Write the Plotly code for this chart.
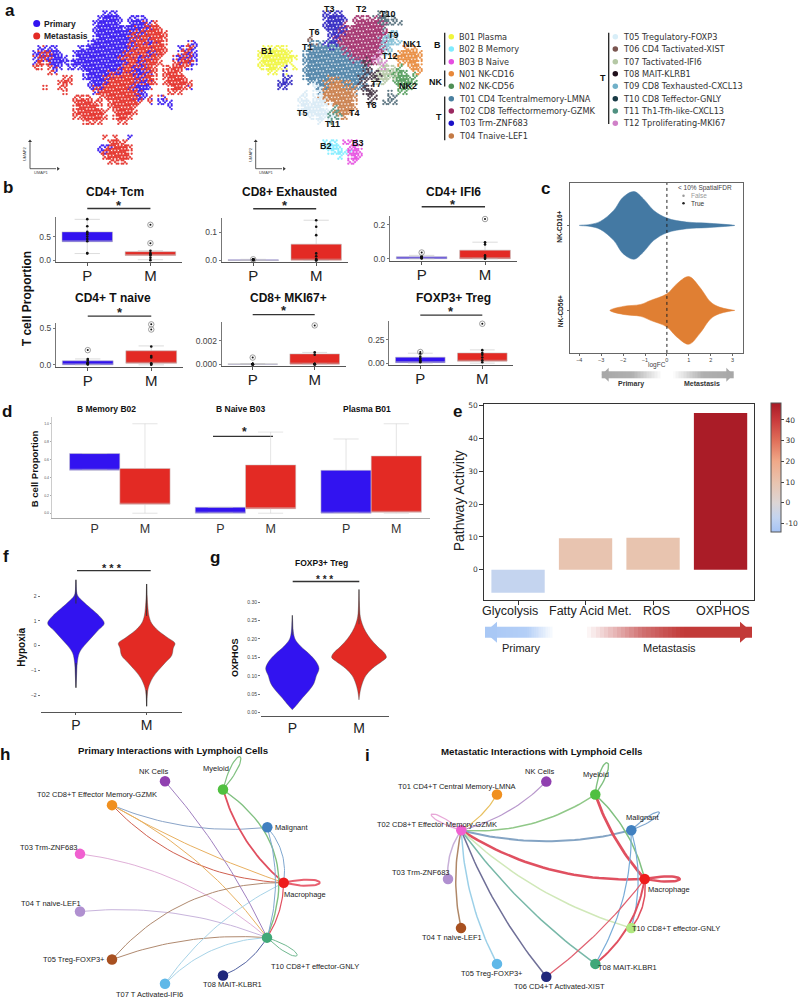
import plotly.graph_objects as go

W, H = 800, 1001
BLUE = "#3213f0"
RED = "#e32a24"
SANS = "Liberation Sans"

# ---------- panel a: cell maps (one row per 5 px of UMAP height)
umap_rows_y = list(range(10, 170, 5))
umap_group_rows = [
"..............bbb................",
".............bbbbb.bbbb..........",
"............bbbbbb.bbbbrr........",
"............bbbbbbbbbbbrrr.......",
"............bbbbbbbbrbrrrrr......",
"............bbbbbbbbrrrrrrr......",
"...........bbbbbbbbbrrrbrrr....bb",
".bbbb....bbbbbbbbbbbrrrrrrr..bbrb",
"bbrbbb..bbbbbbbbbbbrrrrbrrr..brbb",
"brrbbbb.bbbbbbbbbbrrrbrrrr..rbrbb",
"rrrbbbbbbbbbbbbbbbbrrbrrrr..rrrrb",
"rr.rbb.bbbbbbbbbbbrrbbrrr.rrrrrb.",
"...rr.....bbbbbbbbrrbbbrr.rrrr...",
"......rr..bbbbbrrrrrrbrrr.rrrrr..",
".....rrr...bbbbrrrrrrbbrr.rrrrrr.",
"..r..rr....bbbrrrrrrbbbb...rrrrb.",
"......r.....rrrrrrrrrbb....rrr...",
"........rrrr.rrrrrrrrbbb.br......",
"........rrrrrr.rrrrrrr.r.bbb.....",
"........rrrrrr.rrrrrr......b.....",
"........rrrrrrr.rrrrr............",
"........rrrrrrr.rrrr.............",
"..........rrrr...rr..............",
".................................",
".................................",
"..............r.r..b.............",
"...............rrrr..............",
".............bbrrrrr.............",
".............brrrrrr.............",
"..............rrrrrr.............",
"...............rrrr..............",
".................................",
]
umap_cluster_rows = [
".............dddd.......uu.......",
".............ddddd.pppppuuuu.....",
".............ddddd.ppppppuuuu....",
".............ddddppppppppp.......",
"..............dddppppppppptt.....",
"..........k...ddpppppppppttt.....",
"..........ksssddppppppppptttt....",
".YYYYY....ssssssspppppppptt..OOO.",
"YYYYYYY..sssssssssppppppptt.OOOOO",
"YYYYYYYY.sssssssssspppppw..OOOOOO",
"YYYYYYY..ssssssssssssnppww..OOOOO",
"YYYYYY.Y.sssssssssssssn.aaaaG.OOO",
"..YY.d...sssssssssssssnnaaaGGG.OO",
".....dd..ssssssssssssnnnaaaGGGGG.",
"....ddd...ssssooossssn.aaa.GGGGG.",
"....dd.....lssooooossnn.....GGG..",
".........l.llooooooo.nnn..u.GG...",
"........ll.llooooooo..nn..uu.....",
"........lllllloooooo..n..uuu.....",
"........llllll.ooooo.............",
"........lllllllvooo..............",
"..........lllllvoo...............",
"............l.v..................",
".................................",
".................................",
".................................",
".............CCC.MMM.............",
".............CCCC.MMM............",
"..............CCCCMMM............",
"................C.MMM............",
"..................MM.............",
".................................",
]
group_colors = {"b": BLUE, "r": RED}
cluster_colors = {"Y": "#f0f53c", "C": "#7fecff", "M": "#e54de0", "O": "#e8883a", "G": "#4f9a58",
                  "s": "#4a80a5", "p": "#a02a68", "d": "#2a20c0", "o": "#c87a45", "l": "#d8eaf5",
                  "k": "#7a5550", "a": "#b5c8a5", "n": "#403040", "t": "#80bcd4", "u": "#506a78",
                  "v": "#4f9080", "w": "#d080c8"}
legend_left = ["B01 Plasma", "B02 B Memory", "B03 B Naive", "N01 NK-CD16", "N02 NK-CD56",
               "T01 CD4 Tcentralmemory-LMNA", "T02 CD8 Teffectormemory-GZMK", "T03 Trm-ZNF683", "T04 Tnaive-LEF1"]
legend_left_colors = ["#f0f53c", "#7fecff", "#e54de0", "#e8883a", "#4f8f55", "#4a80a0", "#9a2860", "#1a10c8", "#c47a45"]
legend_right = ["T05 Tregulatory-FOXP3", "T06 CD4 Tactivated-XIST", "T07 Tactivated-IFI6", "T08 MAIT-KLRB1",
                "T09 CD8 Texhausted-CXCL13", "T10 CD8 Teffector-GNLY", "T11 Th1-Tfh-like-CXCL13", "T12 Tproliferating-MKI67"]
legend_right_colors = ["#d8eef8", "#7a5550", "#b5c8a5", "#20101c", "#70b0c8", "#183a45", "#4f9080", "#d080c8"]
cluster_labels = [("T3", 329, 6), ("T2", 361, 6), ("T10", 388, 11), ("T9", 393, 32), ("NK1", 412, 41), ("T6", 314, 29),
                  ("T1", 307, 44), ("B1", 267, 48), ("T12", 390, 53), ("T7", 376, 81), ("NK2", 408, 84), ("T8", 371, 103),
                  ("T4", 354, 111), ("T5", 302, 111), ("T11", 332, 122), ("B2", 326, 144), ("B3", 358, 141)]

# ---------- panel b: box statistics (q1, q3, low whisker, high whisker) for P then M
b_titles = ["CD4+ Tcm", "CD8+ Exhausted", "CD4+ IFI6", "CD4+ T naive", "CD8+ MKI67+", "FOXP3+ Treg"]
b_q1 = [[.39, .10], [0, .001], [0, 0], [0, .02], [0, 0], [.005, .02]]
b_q3 = [[.60, .18], [.0025, .058], [.012, .051], [.054, .19], [.00002, .00087], [.064, .11]]
b_lo = [[.14, .01], [0, 0], [0, 0], [0, 0], [0, 0], [0, 0]]
b_hi = [[.866, .20], [.004, .143], [.02, .098], [.08, .257], [.00003, .001], [.107, .143]]
b_pts_p = [[.87, .72, .6, .58, .55, .5, .45, .4, .15, .14], [.004, .003, .002, .003, .001, .002, .004, .003],
           [.015, .01, .005, .012, .002, .008], [.08, .06, .03, .02, .01, .005, .02], [0, 0, 0, 0, 0, 0, 0, 0, 0],
           [.1, .07, .05, .03, .02, .01]]
b_pts_m = [[.2, .15, .13, .12, .1, .05, 0], [.143, .12, .09, .025, .015, .005, .003, 0, .001],
           [.098, .085, .02, .01, .005, 0], [.25, .12, .1, .02, .01, 0], [.001, .0008, 0, 0, 0, 0, 0, 0],
           [.14, .11, .09, .06, .03, .01]]
b_out_p = [[], [.004], [.037], [.2], [.00056], [.12]]
b_out_m = [[.75, .36], [], [.235], [.55, .48], [.0033], [.425]]
b_ticks = [[0, .5], [0, .1], [0, .2], [0, .5], [0, .002], [0, .25]]
b_ticktext = [["0.0", "0.5"], ["0.0", "0.1"], ["0.0", "0.2"], ["0.0", "0.5"], ["0.000", "0.002"], ["0.00", "0.25"]]
# panel frames: left, right, top, bottom, y of tick 0, px per unit
b_frames = [(55.7, 182, 215, 260.7, 258.7, 47.4), (221.7, 347.7, 216, 260.7, 259, 283),
            (390, 516.7, 214.3, 259.3, 257.3, 170), (56, 183, 321.7, 365.7, 364, 74),
            (221.7, 345.7, 321, 365, 363.3, 11800), (389.3, 513.3, 320, 364, 362.3, 93.2)]

# ---------- panel c
c_logfc_16 = [-4.0, -3.5, -3.04, -2.43, -2.0, -1.5, -1.07, -0.6, 0.0, 0.9, 1.8, 3.0, 3.1]
c_width_16 = [0.0, 0.012, 0.047, 0.176, 0.332, 0.398, 0.312, 0.176, 0.086, 0.039, 0.027, 0.004, 0.0]
c_logfc_56 = [-2.6, -2.0, -1.2, -0.75, 0.0, 0.45, 1.0, 1.5, 2.0, 2.4, 3.1]
c_width_56 = [0.0, 0.047, 0.07, 0.117, 0.195, 0.312, 0.398, 0.273, 0.098, 0.039, 0.0]

# ---------- panel d
d_x = [0, 1, 2.5, 3.5, 5, 6]
d_q1 = [.48, .10, 0, .05, 0, .01]
d_q3 = [.667, .50, .067, .54, .48, .64]
d_lo = [.48, 0, 0, 0, 0, 0]
d_hi = [.667, 1.0, .067, .907, .83, 1.0]
d_med = [.48, .10, 0, .05, 0, .01]
d_titles = [("B Memory B02", 106.7), ("B Naive B03", 240.7), ("Plasma B01", 367.3)]

# ---------- panel e
e_paths = ["Glycolysis", "Fatty Acid Met.", "ROS", "OXPHOS"]
e_values = [-7.0, 9.6, 9.8, 47.7]
e_label_x = [510.3, 590, 656, 723]
e_scale = [[0, "#a5c3f5"], [.11, "#c3d4f0"], [.225, "#dcd5d5"], [.38, "#e8c4b0"], [.55, "#f0a888"],
           [.707, "#e0705a"], [.868, "#c93a3c"], [1, "#a81a26"]]

# ---------- panels f, g: violin half widths
f_p_y = [2.66, 2.2, 2.0, 1.8, 1.5, 1.2, .9, .6, .3, 0, -.3, -.7, -1.2, -1.7]
f_p_w = [0, .009, .028, .094, .212, .33, .40, .307, .212, .118, .047, .019, .009, 0]
f_m_y = [2.49, 2.0, 1.5, 1.2, .9, .6, .3, .1, -.1, -.4, -.7, -1.0, -1.3, -1.7, -2.0, -2.45]
f_m_w = [0, .007, .019, .033, .071, .165, .307, .40, .377, .354, .259, .165, .085, .024, .009, 0]
g_p_y = [.264, .25, .22, .20, .18, .16, .14, .12, .10, .08, .06, .04, .02, .008]
g_p_w = [0, .005, .015, .04, .125, .25, .35, .40, .36, .325, .25, .15, .06, 0]
g_m_y = [.336, .30, .26, .24, .22, .20, .18, .16, .15, .14, .12, .10, .08, .06, .035]
g_m_w = [0, .005, .02, .05, .10, .175, .275, .39, .41, .35, .20, .10, .05, .02, 0]

# ---------- panels h, i: networks. Node centres, px on the page
h_nodes = {"NK Cells": (165, 783, "#9040b0"), "Myeloid": (223, 791.3, "#50c040"), "Malignant": (267.3, 829.3, "#4080c0"),
           "Macrophage": (283.7, 885, "#ee1c1c"), "T10": (267, 940.3, "#40a878"), "T08": (223, 978.3, "#20287c"),
           "T07": (165, 986.7, "#60b8e8"), "T05": (112, 962.3, "#a85020"), "T04": (80, 914, "#b090d0"),
           "T03": (80, 856, "#f060d0"), "T02": (112, 807, "#f09020")}
h_edges = [("T02", "Malignant", -.13, "#8aa4c8", 1), ("T02", "Macrophage", -.05, "#e8b060", 1), ("T02", "Macrophage", -.2, "#d06050", 1),
           ("T02", "T10", .12, "#e8b060", 1), ("T03", "T10", .15, "#e0b0d8", 1), ("T04", "T10", .12, "#c8b4dc", 1),
           ("T05", "Macrophage", .23, "#b08a70", 1), ("T05", "T10", .11, "#b08a70", 1), ("T07", "Macrophage", .13, "#a8d4e8", 1),
           ("T07", "T10", .2, "#a8d4e8", 1), ("T08", "T10", -.17, "#5060a0", 1), ("NK Cells", "T10", .07, "#a080c0", 1),
           ("Myeloid", "Macrophage", -.15, "#e05060", 1.8), ("Myeloid", "T10", .4, "#80c080", 1.4), ("Malignant", "Macrophage", .23, "#80a8d0", 1),
           ("Malignant", "T10", .15, "#80a8d0", 1), ("Macrophage", "T10", .14, "#e05060", 1.2)]
h_loops = [("Myeloid", 17, -33, 9, "#80c080", 1.2), ("Macrophage", 36, 0, 8, "#e86070", 2), ("T10", 30, 18, 8, "#70b890", 1)]
h_labels = [("NK Cells", 153.3, 772.7), ("Myeloid", 215.7, 770), ("T02 CD8+T Effector Memory-GZMK", 97.3, 796.3), ("Malignant", 291.3, 829),
            ("T03 Trm-ZNF683", 49, 849.3), ("T04 T naive-LEF1", 51, 905.7), ("Macrophage", 305.3, 896.7), ("T05 Treg-FOXP3+", 74, 962),
            ("T10 CD8+T effector-GNLY", 315, 969.7), ("T08 MAIT-KLBR1", 232.7, 987.3), ("T07 T Activated-IFI6", 149, 997)]
i_nodes = {"NK Cells": (546.3, 783.3, "#9040b0"), "T01": (497, 796.3, "#f09020"), "T02": (461.3, 832.3, "#f060d0"), "T03": (448, 881.3, "#b090d0"),
           "T04": (461, 930.7, "#a85020"), "T05": (497, 966.7, "#60b8e8"), "T06": (546.3, 979.7, "#20287c"), "T08": (595.3, 966.7, "#40a878"),
           "T10": (631.3, 930.7, "#b0e880"), "Macrophage": (644.7, 881.3, "#ee1c1c"), "Malignant": (631.3, 832.3, "#4080c0"), "Myeloid": (595.3, 796.3, "#50c040")}
i_edges = [("T01", "T02", .13, "#e8c060", 1.2), ("NK Cells", "T02", .14, "#b898cc", 1.2), ("Myeloid", "T02", .17, "#90c888", 1.5),
           ("Malignant", "T02", .13, "#84a4c4", 2), ("Macrophage", "T02", .16, "#e05060", 2.5), ("T10", "T02", .12, "#d0e8b8", 1.5),
           ("T08", "T02", .08, "#78b8a8", 1.5), ("T06", "T02", .08, "#707098", 1.5), ("T05", "T02", .11, "#9cd0e8", 1.5),
           ("T04", "T02", .11, "#b08868", 1.5), ("T03", "T02", .18, "#c8b0d8", 1.5), ("Myeloid", "Macrophage", -.1, "#e05060", 2.8),
           ("Myeloid", "Macrophage", .15, "#80c080", 1.5), ("Malignant", "T08", .14, "#78acd8", 1.2), ("Malignant", "T10", .14, "#78acd8", 1.2),
           ("T06", "Macrophage", -.07, "#e06070", 1.2), ("T08", "Macrophage", -.19, "#e05060", 2), ("T10", "Macrophage", -.2, "#e05060", 1.5)]
i_loops = [("Myeloid", 12, -32, 9, "#80c080", 1.4), ("Malignant", 28, -18, 7, "#80a8d0", 1.2), ("Macrophage", 35, 0, 7, "#e05060", 2.5),
           ("T02", -30, -16, 7, "#e8a8d8", 1.2)]
i_labels = [("T01 CD4+T Central Memory-LMNA", 456.7, 788.3), ("NK Cells", 539.7, 773.3), ("Myeloid", 596, 775.7), ("Malignant", 642.7, 819.7),
            ("T02 CD8+T Effector Memory-GZMK", 436.7, 826.7), ("T03 Trm-ZNF683", 420.7, 875), ("T04 T naive-LEF1", 451.7, 939.7),
            ("T05 Treg-FOXP3+", 492.3, 976), ("T06 CD4+T Activated-XIST", 559.3, 989), ("T08 MAIT-KLBR1", 627.3, 970.3),
            ("T10 CD8+T effector-GNLY", 676, 931.3), ("Macrophage", 668.7, 892)]

traces, ann, layout_axes = [], [], {}
axis_count = [1]


def txt(s, x, y, size=8, bold=False, color="#222", angle=0, anchor="center", family=SANS):
    ann.append(dict(text=f"<b>{s}</b>" if bold else s, x=x / W, y=1 - y / H, xref="paper", yref="paper", showarrow=False,
                    xanchor=anchor, yanchor="middle", textangle=angle, font=dict(size=size, color=color, family=family)))


def add_axes(l, r, t, b, xr, yr, xopt=None, yopt=None):
    axis_count[0] += 1
    n = axis_count[0]
    xa = dict(domain=[l / W, r / W], range=xr, anchor=f"y{n}", showgrid=False, zeroline=False, layer="above traces")
    ya = dict(domain=[1 - b / H, 1 - t / H], range=yr, anchor=f"x{n}", showgrid=False, zeroline=False, layer="above traces")
    xa.update(xopt or {})
    ya.update(yopt or {})
    layout_axes[f"xaxis{n}"] = xa
    layout_axes[f"yaxis{n}"] = ya
    return f"x{n}", f"y{n}"


# full page overlay in page pixels
layout_axes["xaxis"] = dict(domain=[0, 1], range=[0, W], visible=False, anchor="y")
layout_axes["yaxis"] = dict(domain=[0, 1], range=[H, 0], visible=False, anchor="x")


def line(xs, ys, color="#333", width=1, dash=None, opacity=1):
    traces.append(go.Scatter(x=xs, y=ys, mode="lines", line=dict(color=color, width=width, dash=dash), opacity=opacity,
                             hoverinfo="skip", showlegend=False))


def bracket(x0, x1, y, star_x, star_y, stars="*", size=12):
    line([x0, x1], [y, y], "#333", 1.4)
    txt(stars, star_x, star_y, size, True, "#222")


def arrow_gradient(x0, x1, yc, sh, hh, hl, colors, head_left):
    n = 40
    xs = [x0 + (x1 - x0) * i / n for i in range(n + 1)]
    traces.append(go.Heatmap(x=xs, y=[yc - sh / 2, yc + sh / 2], z=[[i / (n - 1) for i in range(n)]], colorscale=colors, showscale=False,
                             zmin=0, zmax=1, hoverinfo="skip"))
    if head_left:
        hx = [x0, x0 + hl, x0 + hl, x0]
    else:
        hx = [x1, x1 - hl, x1 - hl, x1]
    hy = [yc, yc - hh / 2, yc + hh / 2, yc]
    c = colors[0][1] if head_left else colors[-1][1]
    traces.append(go.Scatter(x=hx, y=hy, fill="toself", fillcolor=c, mode="lines", line=dict(width=0, color=c), hoverinfo="skip", showlegend=False))


# ---- panel letters
for s, x, y in [("a", 10, 8), ("b", 8, 186), ("c", 545, 187), ("d", 7, 411), ("e", 457, 411), ("f", 6, 557), ("g", 215, 558), ("h", 5, 756), ("i", 367, 757)]:
    txt(s, x, y, 17, True, "#111")


# ---- panel a
def draw_map(rows, x0, colors):
    pts = {k: ([], []) for k in colors}
    for r, row in enumerate(rows):
        for c, ch in enumerate(row):
            if ch == ".":
                continue
            near = []
            for rr, cc in [(r - 1, c), (r + 1, c), (r, c - 1), (r, c + 1)]:
                near.append(rows[rr][cc] if 0 <= rr < len(rows) and 0 <= cc < len(row) else ".")
            other = next((n for n in near if n not in (".", ch)), None)
            edge = "." in near
            for i in range(3):
                for j in range(3):
                    if edge and (i + j) % 2 == 1:
                        continue
                    if (i + 2 * j + r + c) % 5 == 0:
                        continue
                    key = other if other and (i + j + r + c) % 3 == 0 else ch
                    pts[key][0].append(x0 + 5 * c + (i - 1) * 5 / 3)
                    pts[key][1].append(umap_rows_y[r] + (j - 1) * 5 / 3)
    for k, col in colors.items():
        traces.append(go.Scatter(x=pts[k][0], y=pts[k][1], mode="markers", marker=dict(color=col, size=2.3, opacity=.9, line=dict(width=0)),
                                 hoverinfo="skip", showlegend=False))


draw_map(umap_group_rows, 35, group_colors)
draw_map(umap_cluster_rows, 260, cluster_colors)
traces.append(go.Scatter(x=[36.7, 36.7], y=[20.7, 33.3], mode="markers", marker=dict(color=[BLUE, RED], size=7), hoverinfo="skip", showlegend=False))
txt("Primary", 41.7, 20.7, 8.5, True, "#222", anchor="left")
txt("Metastasis", 41.7, 33.3, 8.5, True, "#222", anchor="left")
for s, x, y in cluster_labels:
    txt(s, x, y, 9, True, "#111")
for x0, x1 in [(30, 58), (255.7, 284)]:
    line([x0, x0], [166.7, 140], "#333", .8)
    line([x0, x1 - 2], [166.7, 166.7], "#333", .8)
    traces.append(go.Scatter(x=[x0, x1], y=[139, 166.7], mode="markers",
                             marker=dict(symbol=["triangle-up", "triangle-right"], size=3.5, color="#333"), hoverinfo="skip", showlegend=False))
    txt("UMAP2", x0 - 6, 152, 4, False, "#444", -90)
    txt("UMAP1", x0 + 11, 170.5, 4, False, "#444")
left_y = [34, 46.3, 59, 71.3, 83.7, 96.3, 108.7, 121, 133.7]
traces.append(go.Scatter(x=[451.3] * 9, y=left_y, mode="markers", marker=dict(color=legend_left_colors, size=5.5), hoverinfo="skip", showlegend=False))
traces.append(go.Scatter(x=[615.3] * 8, y=left_y[:8], mode="markers", marker=dict(color=legend_right_colors, size=5.5), hoverinfo="skip", showlegend=False))
for s, y in zip(legend_left, left_y):
    txt(s, 456.7, y, 8.2, False, "#333", anchor="left", family="DejaVu Sans")
for s, y in zip(legend_right, left_y):
    txt(s, 621, y, 8.2, False, "#333", anchor="left", family="DejaVu Sans")
for x, y0, y1 in [(444.7, 30, 62), (444.7, 68, 84), (444.7, 94, 138), (608.7, 30, 121.7)]:
    line([x, x], [y0, y1], "#222", 1.3)
for s, x, y in [("B", 437.7, 42.7), ("NK", 435.7, 79), ("T", 439, 115), ("T", 603.3, 75)]:
    txt(s, x, y, 9, True, "#111")

# ---- panel b
for k, (l, r, t, b, y0, scale) in enumerate(b_frames):
    xa, ya = add_axes(l, r, t, b, [-.5, 1.5], [(y0 - b) / scale, (y0 - t) / scale],
                      dict(tickvals=[0, 1], ticktext=["P", "M"], showline=True, linecolor="#555", linewidth=1, ticks="outside", ticklen=3,
                           ticklabelstandoff=-3, tickcolor="#555", tickfont=dict(size=15, color="#222", family=SANS)),
                      dict(tickvals=b_ticks[k], ticktext=b_ticktext[k], showline=True, linecolor="#777", linewidth=1, ticks="outside", ticklen=2,
                           tickcolor="#777", tickfont=dict(size=8.5, color="#444", family=SANS)))
    for j, col in enumerate([BLUE, RED]):
        traces.append(go.Box(x=[j], q1=[b_q1[k][j]], median=[b_q1[k][j]], q3=[b_q3[k][j]], lowerfence=[b_lo[k][j]], upperfence=[b_hi[k][j]],
                             width=.8, fillcolor=col, line=dict(color="rgba(190,190,190,.9)", width=.6), whiskerwidth=.5, xaxis=xa, yaxis=ya,
                             hoverinfo="skip", showlegend=False, boxpoints=False))
    for j, pts in enumerate([b_pts_p[k], b_pts_m[k]]):
        traces.append(go.Scatter(x=[j] * len(pts), y=pts, mode="markers", marker=dict(color="#111", size=2.6), xaxis=xa, yaxis=ya, hoverinfo="skip", showlegend=False))
    for j, pts in enumerate([b_out_p[k], b_out_m[k]]):
        traces.append(go.Scatter(x=[j] * len(pts), y=pts, mode="markers", marker=dict(color="rgba(255,255,255,0)", size=5.5, line=dict(color="#888", width=.8)),
                                 xaxis=xa, yaxis=ya, hoverinfo="skip", showlegend=False, cliponaxis=False))
        traces.append(go.Scatter(x=[j] * len(pts), y=pts, mode="markers", marker=dict(color="#111", size=2), xaxis=xa, yaxis=ya, hoverinfo="skip", showlegend=False, cliponaxis=False))
    cx0, cx1 = l + (r - l) * .25, l + (r - l) * .75
    tops = [(190, 206.7, 204), (190, 207, 204), (190, 205, 203), (297, 315, 311), (297, 313.5, 309), (297, 314, 310)]
    ty, by, sy = tops[k]
    txt(b_titles[k], (cx0 + cx1) / 2 + [-4, 5, 0, -7, 5, 2][k], ty - 0 if k < 3 else 297, 12, True, "#111")
    bracket(cx0, cx1, by, (cx0 + cx1) / 2, sy, "*", 13)
txt("T cell Proportion", 27, 298, 12, True, "#111", -90)

# ---- panel c
xa, ya = add_axes(570, 743, 181, 352, [(570 - 666.9) / 21.9, (743 - 666.9) / 21.9], [-.5, 1.5],
                  dict(tickvals=list(range(-4, 4)), ticktext=["\u22124", "\u22123", "\u22122", "\u22121", "0", "1", "2", "3"], showline=True, mirror=True,
                       linecolor="#666", linewidth=1, ticks="outside", ticklen=2, tickcolor="#666", tickfont=dict(size=5.5, color="#444", family=SANS)),
                  dict(tickvals=[0, 1], ticktext=["", ""], showline=True, mirror=True, linecolor="#666", linewidth=1, ticks="outside", ticklen=2, tickcolor="#666"))
for xs, ws, c, col in [(c_logfc_16, c_width_16, 1, "#4479a3"), (c_logfc_56, c_width_56, 0, "#e07f33")]:
    traces.append(go.Scatter(x=xs + xs[::-1], y=[c + w for w in ws] + [c - w for w in ws[::-1]], fill="toself", fillcolor=col, mode="lines",
                             line=dict(color=col, width=.5, shape="spline"), xaxis=xa, yaxis=ya, hoverinfo="skip", showlegend=False))
traces.append(go.Scatter(x=[0, 0], y=[-.5, 1.5], mode="lines", line=dict(color="#222", width=1, dash="dot"), xaxis=xa, yaxis=ya, hoverinfo="skip", showlegend=False))
txt("NK-CD16+", 560, 225, 6.5, True, "#222", -90)
txt("NK-CD56+", 560, 310, 6.5, True, "#222", -90)
txt("logFC", 656.7, 364.3, 6.5, False, "#444")
txt("&lt; 10% SpatialFDR", 675.7, 186, 6.5, False, "#444", anchor="left")
txt("False", 689, 194, 6.5, False, "#999", anchor="left")
txt("True", 689, 201.5, 6.5, False, "#333", anchor="left")
traces.append(go.Scatter(x=[683.5, 683.5], y=[194, 201.5], mode="markers", marker=dict(color=["#999", "#222"], size=2.5), hoverinfo="skip", showlegend=False))
arrow_gradient(601.7, 663, 374, 7, 14, 7, [[0, "#a8a8a8"], [.5, "#b0b0b0"], [1, "#ffffff"]], True)
arrow_gradient(671.7, 733.3, 374, 7, 14, 7, [[0, "#ffffff"], [.5, "#b0b0b0"], [1, "#a8a8a8"]], False)
txt("Primary", 631, 383, 7, True, "#333")
txt("Metastasis", 702, 383, 7, True, "#333")

# ---- panel d
xa, ya = add_axes(51.7, 430, 416.7, 518.3, [-.855, 6.67], [(513.3 - 518.3) / 90, (513.3 - 416.7) / 90],
                  dict(tickvals=d_x, ticktext=["P", "M"] * 3, showline=True, linecolor="#aaa", linewidth=1, ticks="", ticklabelstandoff=-1,
                       tickfont=dict(size=12.5, color="#333", family=SANS)),
                  dict(tickvals=[0, .2, .4, .6, .8, 1], ticktext=["0.0", "0.2", "0.4", "0.6", "0.8", "1.0"], showline=True, linecolor="#ccc", linewidth=1, ticks="outside",
                       ticklen=1, tickcolor="#aaa", tickfont=dict(size=3.5, color="#555", family=SANS)))
for i in range(6):
    traces.append(go.Box(x=[d_x[i]], q1=[d_q1[i]], median=[d_med[i]], q3=[d_q3[i]], lowerfence=[d_lo[i]], upperfence=[d_hi[i]], width=1,
                         fillcolor=BLUE if i % 2 == 0 else RED, line=dict(color="rgba(205,205,205,.9)", width=.6), whiskerwidth=.5, xaxis=xa, yaxis=ya,
                         hoverinfo="skip", showlegend=False, boxpoints=False))
for s, x in d_titles:
    txt(s, x, 408, 8.5, True, "#111")
txt("B cell Proportion", 34, 469, 9.5, True, "#111", -90)
bracket(213, 273, 436, 244, 432, "*", 12)

# ---- panel e
xa, ya = add_axes(484.3, 754.3, 403.3, 601, [-.5, 3.5], [-9.3, 50.5],
                  dict(tickvals=[0, 1, 2, 3], ticktext=[""] * 4, showline=True, mirror=True, linecolor="#333", linewidth=1.2, ticks="outside", ticklen=4, tickcolor="#333"),
                  dict(tickvals=[0, 10, 20, 30, 40, 50], showline=True, mirror=True, linecolor="#333", linewidth=1.2, ticks="outside", ticklen=4, tickcolor="#333",
                       tickfont=dict(size=7.5, color="#333", family="DejaVu Sans")))
traces.append(go.Bar(x=[0, 1, 2, 3], y=e_values, width=.79, xaxis=xa, yaxis=ya, hoverinfo="skip", showlegend=False,
                     marker=dict(color=e_values, colorscale=e_scale, cmin=-14, cmax=48.2, line=dict(width=0),
                                 colorbar=dict(x=771 / W, xanchor="left", y=1 - 402.3 / H, yanchor="top", len=129.4 / H, lenmode="fraction", thickness=10,
                                               xpad=0, ypad=0, outlinecolor="#555", outlinewidth=1, ticks="outside", ticklen=3, tickcolor="#444",
                                               tickvals=[-10, 0, 10, 20, 30, 40], ticktext=["-10", "0", "10", "20", "30", "40"],
                                               tickfont=dict(size=7.5, color="#333", family="DejaVu Sans")))))
for s, x in zip(e_paths, e_label_x):
    txt(s, x, 612, 12.5, False, "#222")
txt("Pathway Activity", 459.3, 501, 14, False, "#222", -90)
arrow_gradient(485, 555, 633, 11, 21, 12, [[0, "#a9c8f5"], [.6, "#b4cff7"], [1, "#ffffff"]], True)
arrow_gradient(583, 752, 633, 11, 21, 12, [[0, "#ffffff"], [.35, "#d07070"], [.6, "#c23a38"], [1, "#c23a38"]], False)
txt("Primary", 520.7, 649, 11, False, "#222")
txt("Metastasis", 669, 649, 11, False, "#222")


# ---- panels f, g
def violin(xa, ya, c, ys, ws, col):
    traces.append(go.Scatter(x=[c + w for w in ws] + [c - w for w in ws[::-1]], y=ys + ys[::-1], fill="toself", fillcolor=col, mode="lines",
                             line=dict(color="#444", width=.4, shape="spline"), xaxis=xa, yaxis=ya, hoverinfo="skip", showlegend=False))


xa, ya = add_axes(40.6, 182, 560, 713, [-.5, 1.5], [(646.5 - 713) / 24.9, (646.5 - 560) / 24.9],
                  dict(tickvals=[0, 1], ticktext=["P", "M"], showline=True, linecolor="#555", linewidth=1, ticks="outside", ticklen=2, tickcolor="#555",
                       ticklabelstandoff=-2, tickfont=dict(size=14, color="#222", family=SANS)),
                  dict(tickvals=[-2, -1, 0, 1, 2], ticktext=["\u22122", "\u22121", "0", "1", "2"], showline=False, ticks="outside",
                       ticklen=2, tickcolor="#777", tickfont=dict(size=5, color="#444", family=SANS)))
violin(xa, ya, 0, f_p_y, f_p_w, BLUE)
violin(xa, ya, 1, f_m_y, f_m_w, RED)
for c, yy in [(0, [1.7, 2.66]), (0, [-1.7, -.7]), (1, [1.2, 2.49]), (1, [-2.45, -1.8])]:
    traces.append(go.Scatter(x=[c, c], y=yy, mode="lines", line=dict(color="#333", width=1), xaxis=xa, yaxis=ya, hoverinfo="skip", showlegend=False))
txt("Hypoxia", 20.7, 648, 10, True, "#111", -90)
bracket(77, 150.7, 571, 112, 568.5, "* * *", 11)

xa, ya = add_axes(261, 389, 590, 717.3, [-.47, 1.45], [(714 - 717.3) / 371, (714 - 590) / 371],
                  dict(tickvals=[0, 1], ticktext=["P", "M"], showline=True, linecolor="#555", linewidth=1, ticks="", ticklabelstandoff=-1,
                       tickfont=dict(size=14, color="#222", family=SANS)),
                  dict(tickvals=[0, .05, .10, .15, .20, .25, .30], ticktext=["0.00", "0.05", "0.10", "0.15", "0.20", "0.25", "0.30"], showline=False, ticks="outside",
                       ticklen=2, tickcolor="#777", tickfont=dict(size=5, color="#444", family=SANS)))
violin(xa, ya, 0, g_p_y, g_p_w, BLUE)
violin(xa, ya, 1, g_m_y, g_m_w, RED)
for c, yy in [(1, [.24, .336]), (0, [.21, .264])]:
    traces.append(go.Scatter(x=[c, c], y=yy, mode="lines", line=dict(color="#444", width=.8), xaxis=xa, yaxis=ya, hoverinfo="skip", showlegend=False))
txt("FOXP3+ Treg", 321, 563, 8.5, True, "#111")
txt("OXPHOS", 235, 659, 9, True, "#111", -90)
bracket(292.7, 359.3, 582, 324, 579.5, "* * *", 10)


# ---- panels h, i
def draw_network(nodes, edges, loops, labels):
    for s, d, k, col, w in edges:
        x0, y0 = nodes[s][:2]
        x1, y1 = nodes[d][:2]
        cx = (x0 + x1) / 2 + k * (y1 - y0)
        cy = (y0 + y1) / 2 - k * (x1 - x0)
        ts = [i / 30 for i in range(31)]
        traces.append(go.Scatter(x=[(1 - t) ** 2 * x0 + 2 * t * (1 - t) * cx + t ** 2 * x1 for t in ts],
                                 y=[(1 - t) ** 2 * y0 + 2 * t * (1 - t) * cy + t ** 2 * y1 for t in ts],
                                 mode="lines", line=dict(color=col, width=w), hoverinfo="skip", showlegend=False))
    for n, dx, dy, sp, col, w in loops:
        x0, y0 = nodes[n][:2]
        L = (dx ** 2 + dy ** 2) ** .5
        px, py = -dy / L * sp, dx / L * sp
        c1 = (x0 + dx * 4 / 3 + px * 4 / 3, y0 + dy * 4 / 3 + py * 4 / 3)
        c2 = (x0 + dx * 4 / 3 - px * 4 / 3, y0 + dy * 4 / 3 - py * 4 / 3)
        ts = [i / 30 for i in range(31)]
        traces.append(go.Scatter(x=[(1 - t) ** 3 * x0 + 3 * t * (1 - t) ** 2 * c1[0] + 3 * t * t * (1 - t) * c2[0] + t ** 3 * x0 for t in ts],
                                 y=[(1 - t) ** 3 * y0 + 3 * t * (1 - t) ** 2 * c1[1] + 3 * t * t * (1 - t) * c2[1] + t ** 3 * y0 for t in ts],
                                 mode="lines", line=dict(color=col, width=w), hoverinfo="skip", showlegend=False))
    v = list(nodes.values())
    traces.append(go.Scatter(x=[a[0] for a in v], y=[a[1] for a in v], mode="markers", marker=dict(color=[a[2] for a in v], size=10.5),
                             hoverinfo="skip", showlegend=False))
    for s, x, y in labels:
        txt(s, x, y, 7.5, False, "#222")


draw_network(h_nodes, h_edges, h_loops, h_labels)
draw_network(i_nodes, i_edges, i_loops, i_labels)
txt("Primary Interactions with Lymphoid Cells", 173.3, 751.7, 9.7, True, "#111")
txt("Metastatic Interactions with Lymphoid Cells", 541.7, 753.3, 9.7, True, "#111")

fig = go.Figure(traces)
fig.update_layout(width=W, height=H, margin=dict(l=0, r=0, t=0, b=0), autosize=False, paper_bgcolor="white", plot_bgcolor="rgba(0,0,0,0)",
                  showlegend=False, annotations=ann, boxmode="overlay", **layout_axes)
fig.write_html("out.html", config=dict(displayModeBar=False),
               post_script="document.body.style.margin='0';document.body.style.overflow='hidden';")
